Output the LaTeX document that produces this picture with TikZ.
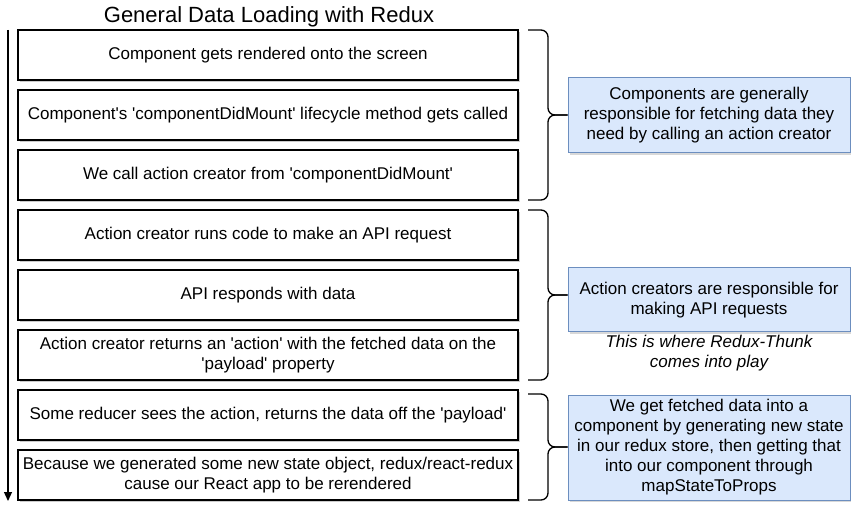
\documentclass[tikz,border=0pt]{standalone}
\usepackage{fontspec}
\setmainfont{Liberation Sans}[Ligatures=TeXOff]
\usepackage{tikz}
\usetikzlibrary{arrows.meta,shadows}
\usetikzlibrary{positioning}

\definecolor{notefill}{HTML}{DAE8FC}
\definecolor{notedraw}{HTML}{6C8EBF}

\tikzset{
    stepbox/.style={draw, line width=1.3pt, fill=white, minimum width=500pt,
        minimum height=50pt, align=center, font=\fontsize{17}{20}\selectfont,
        drop shadow={shadow xshift=2pt, shadow yshift=-2pt, fill=black!40}},
    notebox/.style={draw=notedraw, line width=1pt, fill=notefill, align=center,
        font=\fontsize{17}{20}\selectfont, inner sep=0pt,
        drop shadow={shadow xshift=2pt, shadow yshift=-2pt, fill=black!30}},
    bracket/.style={line width=1.3pt, rounded corners=7pt}
}

\begin{document}
\begin{tikzpicture}[x=1pt,y=-1pt]
    \useasboundingbox (0,0) rectangle (851,510);

    \node[font=\fontsize{22}{26}\selectfont] (title) at (269,17) {General Data Loading with Redux};

    % steps
    \begin{scope}[every node/.style={stepbox}]
        \node (s1) at (268,55) {Component gets rendered onto the screen};
        \node (s2) at (268,115) {Component's 'componentDidMount' lifecycle method gets called};
        \node (s3) at (268,175) {We call action creator from 'componentDidMount'};
        \node (s4) at (268,235) {Action creator runs code to make an API request};
        \node (s5) at (268,295) {API responds with data};
        \node (s6) at (268,355) {Action creator returns an 'action' with the fetched data on the\\'payload' property};
        \node (s7) at (268,415) {Some reducer sees the action, returns the data off the 'payload'};
        \node (s8) at (268,475) {Because we generated some new state object, redux/react-redux\\cause our React app to be rerendered};
    \end{scope}

    % time arrow
    \coordinate (top) at (8,30);
    \coordinate (bottom) at (8,501);
    \draw[line width=1.3pt, -{Triangle[length=9pt,width=8pt]}] (top) -- (bottom);

    % notes
    \begin{scope}[every node/.style={notebox}]
        \node[minimum width=282pt, minimum height=75pt] (n1) at (709,115.5)
            {Components are generally\\responsible for fetching data they\\need by calling an action creator};
        \node[minimum width=282pt, minimum height=64pt] (n2) at (709,300)
            {Action creators are responsible for\\making API requests};
        \node[minimum width=282pt, minimum height=105pt] (n3) at (709,447.5)
            {We get fetched data into a\\component by generating new state\\in our redux store, then getting that\\into our component through\\mapStateToProps};
    \end{scope}
    \node[align=center, font=\fontsize{17}{20}\selectfont\itshape] (thunk) at (709,353)
        {This is where Redux-Thunk\\comes into play};

    % brackets
    \coordinate (b1a) at (528,30);
    \coordinate (b1b) at (528,200);
    \coordinate (b2a) at (528,210);
    \coordinate (b2b) at (528,380);
    \coordinate (b3a) at (528,394);
    \coordinate (b3b) at (528,500);
    \draw[bracket] (b1a) -- (548,30) -- (548,115) -- (n1.west |- 0,115);
    \draw[bracket] (b1b) -- (548,200) -- (548,115) -- (n1.west |- 0,115);
    \draw[bracket] (b2a) -- (548,210) -- (548,295) -- (n2.west |- 0,295);
    \draw[bracket] (b2b) -- (548,380) -- (548,295) -- (n2.west |- 0,295);
    \draw[bracket] (b3a) -- (548,394) -- (548,447) -- (n3.west |- 0,447);
    \draw[bracket] (b3b) -- (548,500) -- (548,447) -- (n3.west |- 0,447);
\end{tikzpicture}
\end{document}
